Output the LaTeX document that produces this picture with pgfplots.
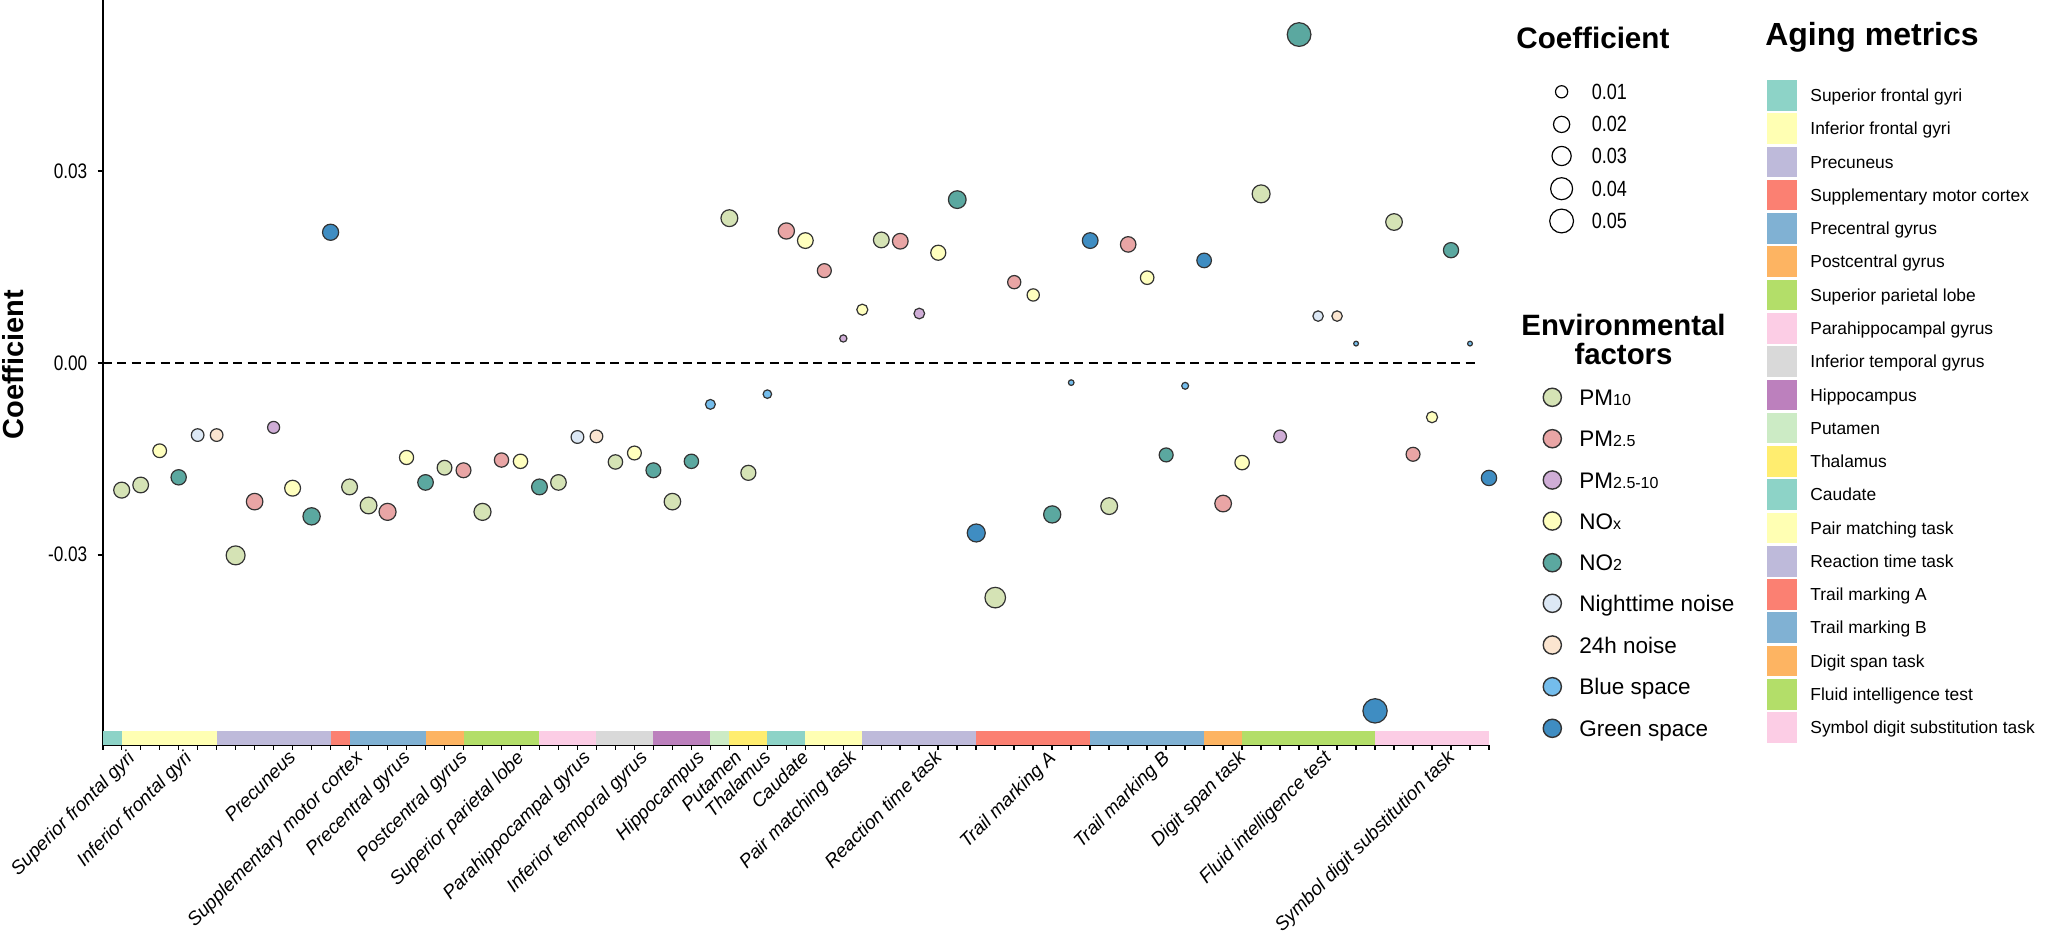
\documentclass[border=0pt]{standalone}
\usepackage{fontspec}
\setmainfont{Liberation Sans}
\newfontfamily\narrowfont[FakeStretch=0.82]{Liberation Sans}
\usepackage{pgfplots}
\pgfplotsset{compat=1.18}

\definecolor{cPMten}{HTML}{D5E3B5}
\definecolor{cPMtwo}{HTML}{E9A5A5}
\definecolor{cPMcoarse}{HTML}{CFADD6}
\definecolor{cNOx}{HTML}{FFFFBE}
\definecolor{cNOtwo}{HTML}{5BA8A0}
\definecolor{cNight}{HTML}{DCE8F5}
\definecolor{cDay}{HTML}{FBE5D0}
\definecolor{cBlue}{HTML}{74BDEC}
\definecolor{cGreen}{HTML}{3F8DC2}
\definecolor{edge}{HTML}{333333}
\definecolor{sA}{HTML}{8DD3C7}
\definecolor{sB}{HTML}{FFFFB3}
\definecolor{sC}{HTML}{BEBADA}
\definecolor{sD}{HTML}{FB8072}
\definecolor{sE}{HTML}{80B1D3}
\definecolor{sF}{HTML}{FDB462}
\definecolor{sG}{HTML}{B3DE69}
\definecolor{sH}{HTML}{FCCDE5}
\definecolor{sI}{HTML}{D9D9D9}
\definecolor{sJ}{HTML}{BC80BD}
\definecolor{sK}{HTML}{CCEBC5}
\definecolor{sL}{HTML}{FFED6F}

\pgfplotsset{
  bubble/.style={
    only marks, mark=*, scatter,
    scatter/use mapped color={draw=edge, fill=#1},
    mark options={line width=0.6pt},
    visualization depends on={value \thisrow{y} \as \yv},
    scatter/@pre marker code/.append style={/tikz/mark size={0.25*(6+19.5*sqrt(max(abs(\yv)-0.003,0)/0.0514))-0.3}},
  },
  strip/.style={draw=none, fill=#1},
}

\begin{document}
\begin{tikzpicture}
\path[use as bounding box] (0pt,0pt) rectangle (1025pt,-468.5pt);
\begin{axis}[
  at={(51.35pt,-372.25pt)}, anchor=south west,
  scale only axis, width=693.15pt, height=372.25pt,
  xmin=0, xmax=73, ymin=-0.05966, ymax=0.0567,
  axis x line*=bottom, axis y line*=left,
  axis line style={line width=1pt, black},
  clip=false,
  tick align=outside,
  major tick length=2.5pt,
  every tick/.style={black, line width=0.8pt},
  scaled y ticks=false,
  xtick={0,1,...,73}, xticklabels={},
  ytick={-0.03,0,0.03}, yticklabels={-0.03,0.00,0.03},
  yticklabel style={font=\narrowfont\fontsize{10.5}{12}\selectfont, anchor=east, inner sep=0pt, xshift=-5pt},
  extra x ticks={1,4,9.5,13,15.5,18.5,21.5,25,28,31,33,34.5,36.5,39,43.5,49.5,55.5,59.5,64,70.5},
  extra x tick labels={Superior frontal gyri,Inferior frontal gyri,Precuneus,Supplementary motor cortex,Precentral gyrus,Postcentral gyrus,Superior parietal lobe,Parahippocampal gyrus,Inferior temporal gyrus,Hippocampus,Putamen,Thalamus,Caudate,Pair matching task,Reaction time task,Trail marking A,Trail marking B,Digit span task,Fluid intelligence test,Symbol digit substitution task},
  extra x tick style={major tick length=0pt, xticklabel style={rotate=45, anchor=north east, inner sep=0pt, yshift=-3pt, font=\itshape\fontsize{9.5}{11}\selectfont}},
]
% aging-metric strip
\addplot[strip=sA] coordinates {(0,-0.05966) (1,-0.05966) (1,-0.05755) (0,-0.05755)} --cycle;
\addplot[strip=sB] coordinates {(1,-0.05966) (6,-0.05966) (6,-0.05755) (1,-0.05755)} --cycle;
\addplot[strip=sC] coordinates {(6,-0.05966) (12,-0.05966) (12,-0.05755) (6,-0.05755)} --cycle;
\addplot[strip=sD] coordinates {(12,-0.05966) (13,-0.05966) (13,-0.05755) (12,-0.05755)} --cycle;
\addplot[strip=sE] coordinates {(13,-0.05966) (17,-0.05966) (17,-0.05755) (13,-0.05755)} --cycle;
\addplot[strip=sF] coordinates {(17,-0.05966) (19,-0.05966) (19,-0.05755) (17,-0.05755)} --cycle;
\addplot[strip=sG] coordinates {(19,-0.05966) (23,-0.05966) (23,-0.05755) (19,-0.05755)} --cycle;
\addplot[strip=sH] coordinates {(23,-0.05966) (26,-0.05966) (26,-0.05755) (23,-0.05755)} --cycle;
\addplot[strip=sI] coordinates {(26,-0.05966) (29,-0.05966) (29,-0.05755) (26,-0.05755)} --cycle;
\addplot[strip=sJ] coordinates {(29,-0.05966) (32,-0.05966) (32,-0.05755) (29,-0.05755)} --cycle;
\addplot[strip=sK] coordinates {(32,-0.05966) (33,-0.05966) (33,-0.05755) (32,-0.05755)} --cycle;
\addplot[strip=sL] coordinates {(33,-0.05966) (35,-0.05966) (35,-0.05755) (33,-0.05755)} --cycle;
\addplot[strip=sA] coordinates {(35,-0.05966) (37,-0.05966) (37,-0.05755) (35,-0.05755)} --cycle;
\addplot[strip=sB] coordinates {(37,-0.05966) (40,-0.05966) (40,-0.05755) (37,-0.05755)} --cycle;
\addplot[strip=sC] coordinates {(40,-0.05966) (46,-0.05966) (46,-0.05755) (40,-0.05755)} --cycle;
\addplot[strip=sD] coordinates {(46,-0.05966) (52,-0.05966) (52,-0.05755) (46,-0.05755)} --cycle;
\addplot[strip=sE] coordinates {(52,-0.05966) (58,-0.05966) (58,-0.05755) (52,-0.05755)} --cycle;
\addplot[strip=sF] coordinates {(58,-0.05966) (60,-0.05966) (60,-0.05755) (58,-0.05755)} --cycle;
\addplot[strip=sG] coordinates {(60,-0.05966) (67,-0.05966) (67,-0.05755) (60,-0.05755)} --cycle;
\addplot[strip=sH] coordinates {(67,-0.05966) (73,-0.05966) (73,-0.05755) (67,-0.05755)} --cycle;
% zero line
\addplot[black, line width=1.15pt, dash pattern=on 4.5pt off 2.75pt] coordinates {(0,0) (72.5,0)};
% PM10
\addplot[bubble=cPMten] table {
x y
1 -0.0199
2 -0.0191
7 -0.0301
13 -0.0194
14 -0.0223
18 -0.0164
20 -0.0233
24 -0.0187
27 -0.0155
30 -0.0217
33 0.0226
34 -0.0172
41 0.0192
47 -0.0367
53 -0.0224
61 0.0264
68 0.0220
};
% PM2.5
\addplot[bubble=cPMtwo] table {
x y
8 -0.0217
15 -0.0233
19 -0.0168
21 -0.0152
36 0.0206
38 0.0144
42 0.0190
48 0.0126
54 0.0185
59 -0.0220
69 -0.0143
};
% PM2.5-10
\addplot[bubble=cPMcoarse] table {
x y
9 -0.0101
39 0.0038
43 0.0077
62 -0.0115
};
% NOx
\addplot[bubble=cNOx] table {
x y
3 -0.01375
10 -0.0196
16 -0.0148
22 -0.0154
28 -0.0141
37 0.0191
40 0.0083
44 0.0172
49 0.0106
55 0.0133
60 -0.0156
70 -0.0085
};
% NO2
\addplot[bubble=cNOtwo] table {
x y
4 -0.0179
11 -0.0240
17 -0.0187
23 -0.0194
29 -0.0168
31 -0.0154
45 0.0255
50 -0.0237
56 -0.0144
63 0.0513
71 0.0176
};
% Nighttime noise
\addplot[bubble=cNight] table {
x y
5 -0.0113
25 -0.0116
64 0.0073
};
% 24h noise
\addplot[bubble=cDay] table {
x y
6 -0.0113
26 -0.0115
65 0.0073
};
% Blue space
\addplot[bubble=cBlue] table {
x y
32 -0.0065
35 -0.0049
51 -0.0031
57 -0.0036
66 0.0030
72 0.0030
};
% Green space
\addplot[bubble=cGreen] table {
x y
12 0.0204
46 -0.0266
52 0.0191
58 0.0160
67 -0.0544
73 -0.0180
};
\end{axis}

\begin{scope}[x=0.5pt,y=-0.5pt]
% y label
\node[rotate=90, font=\bfseries\fontsize{14.5}{17}\selectfont, inner sep=0pt] at (13.4,364.6) {Coefficient};
% size legend
\node[font=\bfseries\fontsize{14.8}{17}\selectfont, inner sep=0pt, anchor=base] at (1592.9,48.6) {Coefficient};
\foreach \yy/\rr/\lab in {91.8/6.1/0.01, 124.4/8.1/0.02, 156/9.6/0.03, 188.7/11/0.04, 221/11.9/0.05}{
  \draw[black, line width=0.6pt, fill=white] (1561.6,\yy) circle[radius=\rr];
  \node[font=\narrowfont\fontsize{11}{13}\selectfont, inner sep=0pt, anchor=west] at (1591.5,\yy) {\lab};
}
% environmental factors legend
\node[font=\bfseries\fontsize{14.7}{17}\selectfont, inner sep=0pt, anchor=base] at (1623.5,335) {Environmental};
\node[font=\bfseries\fontsize{14.7}{17}\selectfont, inner sep=0pt, anchor=base] at (1623.5,364.3) {factors};
\foreach \yy/\cc/\lab in {
  397.3/cPMten/{PM{\fontsize{8}{9}\selectfont 10}},
  438.7/cPMtwo/{PM{\fontsize{8}{9}\selectfont 2.5}},
  480/cPMcoarse/{PM{\fontsize{8}{9}\selectfont 2.5-10}},
  521/cNOx/{NO{\fontsize{8}{9}\selectfont x}},
  562.7/cNOtwo/{NO{\fontsize{8}{9}\selectfont 2}},
  603.3/cNight/{Nighttime noise},
  645/cDay/{24h noise},
  686.7/cBlue/{Blue space},
  728.3/cGreen/{Green space}}{
  \draw[edge, line width=0.7pt, fill=\cc] (1552.3,\yy) circle[radius=9.1];
  \node[font=\fontsize{11.25}{13}\selectfont, inner sep=0pt, anchor=base west] at (1579,\yy+8) {\lab};
}
% aging metrics legend
\node[font=\bfseries\fontsize{16}{19}\selectfont, inner sep=0pt, anchor=base] at (1872,45.9) {Aging metrics};
\foreach \i/\cc/\lab in {
  0/sA/Superior frontal gyri, 1/sB/Inferior frontal gyri, 2/sC/Precuneus,
  3/sD/Supplementary motor cortex, 4/sE/Precentral gyrus, 5/sF/Postcentral gyrus,
  6/sG/Superior parietal lobe, 7/sH/Parahippocampal gyrus, 8/sI/Inferior temporal gyrus,
  9/sJ/Hippocampus, 10/sK/Putamen, 11/sL/Thalamus, 12/sA/Caudate,
  13/sB/Pair matching task, 14/sC/Reaction time task, 15/sD/Trail marking A,
  16/sE/Trail marking B, 17/sF/Digit span task, 18/sG/Fluid intelligence test,
  19/sH/Symbol digit substitution task}{
  \fill[\cc] (1766.7,80+33.28*\i) rectangle (1797.3,110.6+33.28*\i);
  \node[font=\fontsize{8.7}{10}\selectfont, inner sep=0pt, anchor=base west] at (1810,95.3+33.28*\i+6.2) {\lab};
}
\end{scope}
\end{tikzpicture}
\end{document}
